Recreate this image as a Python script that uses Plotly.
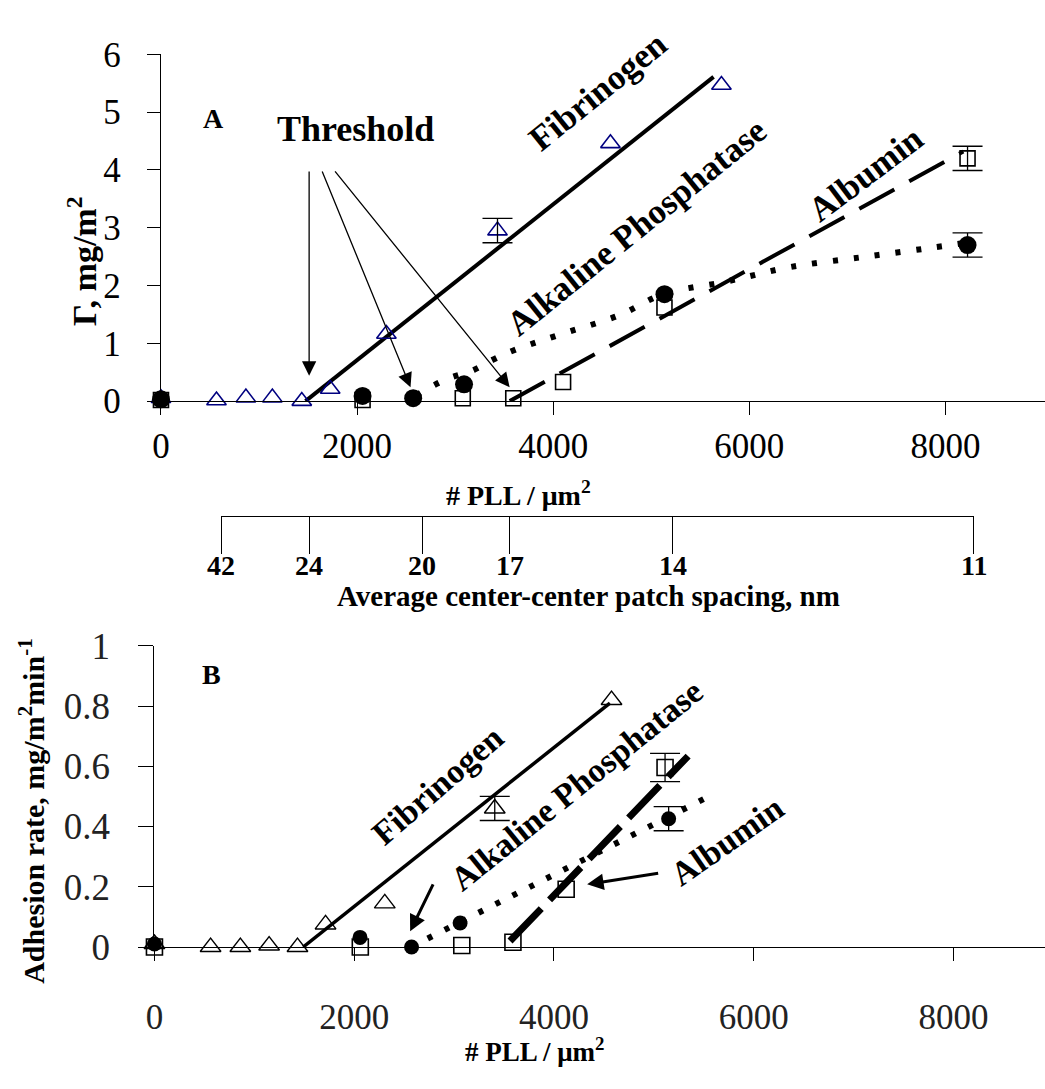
import plotly.graph_objects as go

# ---------------- Panel A data (adsorbed amount, mg/m2) ----------------
fib_a_x = [0, 566, 866, 1136, 1436, 1726, 2299, 3432, 4584, 5716]
fib_a_y = [0.05, 0.01, 0.06, 0.06, 0.0, 0.21, 1.16, 2.95, 4.46, 5.47]
fib_a_err = [None, None, None, None, None, None, None, 0.21, None, None]

alb_a_x = [0, 2056, 3078, 3593, 4101, 5135, 8226]
alb_a_y = [0.02, 0.02, 0.05, 0.05, 0.33, 1.62, 4.2]
alb_a_err = [None, None, None, None, None, None, 0.21]

ap_a_x = [0, 2056, 2572, 3091, 5135, 8226]
ap_a_y = [0.03, 0.09, 0.05, 0.29, 1.85, 2.7]
ap_a_err = [None, None, None, None, None, 0.21]

fib_a_fit_x = [1474, 5636]
fib_a_fit_y = [0.0, 5.61]
alb_a_fit_x = [3557, 8183]
alb_a_fit_y = [0.0, 4.32]
ap_a_fit_x = [2600, 2900, 3190, 3390, 3600, 4030, 4680, 5120, 5770, 6420, 7150, 7800, 8170]
ap_a_fit_y = [0.1, 0.37, 0.54, 0.72, 0.88, 1.13, 1.49, 1.85, 2.07, 2.32, 2.49, 2.64, 2.73]

# threshold arrows (tail at text, head at threshold)
thr_head_x = [1511, 2545, 3556]
thr_head_y = [0.44, 0.24, 0.24]
thr_tail_x = [1511, 1638, 1763]
thr_tail_y = [4.0, 4.0, 4.0]

# ---------------- Panel B data (adhesion rate) ----------------
fib_b_x = [0, 562, 860, 1148, 1432, 1713, 2306, 3407, 4576]
fib_b_y = [0.01, 0.0, 0.0, 0.005, 0.0, 0.075, 0.145, 0.46, 0.82]
fib_b_err = [None, None, None, None, None, None, None, 0.04, None]

ap_b_x = [0, 2058, 2574, 3060, 5148]
ap_b_y = [0.01, 0.032, 0.0, 0.08, 0.426]
ap_b_err = [None, None, None, None, 0.04]

alb_b_x = [0, 2061, 3077, 3589, 4122, 5112]
alb_b_y = [0.0, 0.0, 0.005, 0.016, 0.192, 0.596]
alb_b_err = [None, None, None, None, None, 0.047]

fib_b_fit_x = [1489, 4560]
fib_b_fit_y = [0.0, 0.81]
ap_b_fit_x = [2566, 5521]
ap_b_fit_y = [0.0, 0.495]
alb_b_fit_x = [3560, 5343]
alb_b_fit_y = [0.02, 0.634]

# panel B pointer arrows (head -> tail)
b_arrow_head_x = [2560, 4332]
b_arrow_head_y = [0.052, 0.208]
b_arrow_tail_x = [2797, 5058]
b_arrow_tail_y = [0.213, 0.246]

# ---------------- axis ticks ----------------
pll_ticks = [0, 2000, 4000, 6000, 8000]
gamma_ticks = [0, 1, 2, 3, 4, 5, 6]
rate_ticks = [0, 0.2, 0.4, 0.6, 0.8, 1]
rate_tick_text = ["0", "0.2", "0.4", "0.6", "0.8", "1"]
spacing_pll = [617, 1511, 2663, 3556, 5217, 8291]
spacing_labels = ["42", "24", "20", "17", "14", "11"]

SERIF = "Liberation Serif"
NAVY = "#000080"

fig = go.Figure()


def pts(x, y, err, sym, size, color, lw, xa, ya):
    fig.add_trace(go.Scatter(
        x=x, y=y, mode="markers", xaxis=xa, yaxis=ya, cliponaxis=False,
        marker=dict(symbol=sym, size=size, color=color,
                    line=dict(color=color, width=lw)),
        showlegend=False, hoverinfo="skip"))
    ex = [a for a, e in zip(x, err) if e is not None]
    ey = [b for b, e in zip(y, err) if e is not None]
    ee = [e for e in err if e is not None]
    fig.add_trace(go.Scatter(
        x=ex, y=ey, mode="markers", xaxis=xa, yaxis=ya, cliponaxis=False,
        marker=dict(size=1, color="rgba(0,0,0,0)"),
        error_y=dict(type="data", array=ee, visible=True, color="black",
                     thickness=1.3, width=15),
        showlegend=False, hoverinfo="skip"))


def fit(x, y, width, dash, xa, ya):
    fig.add_trace(go.Scatter(
        x=x, y=y, mode="lines", xaxis=xa, yaxis=ya, cliponaxis=False,
        line=dict(color="black", width=width, dash=dash, shape="spline"),
        showlegend=False, hoverinfo="skip"))


# Panel A
fit(fib_a_fit_x, fib_a_fit_y, 4, "solid", "x", "y")
fit(alb_a_fit_x, alb_a_fit_y, 4, "40px,17px", "x", "y")
fit(ap_a_fit_x, ap_a_fit_y, 6, "5px,16px", "x", "y")
pts(fib_a_x, fib_a_y, fib_a_err, "triangle-up-open", 17, NAVY, 1.6, "x", "y")
pts(alb_a_x, alb_a_y, alb_a_err, "square-open", 15, "black", 1.6, "x", "y")
pts(ap_a_x, ap_a_y, ap_a_err, "circle", 18, "black", 0, "x", "y")

# Panel B
fit(fib_b_fit_x, fib_b_fit_y, 3.5, "solid", "x2", "y2")
fit(alb_b_fit_x, alb_b_fit_y, 7, "45px,12px", "x2", "y2")
fit(ap_b_fit_x, ap_b_fit_y, 6, "5px,14px", "x2", "y2")
pts(fib_b_x, fib_b_y, fib_b_err, "triangle-up-open", 18, "black", 1.4, "x2", "y2")
pts(alb_b_x, alb_b_y, alb_b_err, "square-open", 16, "black", 1.6, "x2", "y2")
pts(ap_b_x, ap_b_y, ap_b_err, "circle", 15, "black", 0, "x2", "y2")

# spacing axis carrier (invisible)
fig.add_trace(go.Scatter(x=spacing_pll, y=[0.5] * len(spacing_pll), mode="markers",
                         xaxis="x3", yaxis="y3", marker=dict(size=1, color="rgba(0,0,0,0)"),
                         showlegend=False, hoverinfo="skip"))

axis_common = dict(showgrid=False, zeroline=False, showline=True, linecolor="black",
                   linewidth=1.3, ticks="outside", tickcolor="black", tickwidth=1.3)

fig.update_layout(
    width=1045, height=1089,
    margin=dict(l=0, r=0, t=0, b=0),
    paper_bgcolor="white", plot_bgcolor="rgba(0,0,0,0)",
    showlegend=False,
    xaxis=dict(domain=[0.1467, 1.0], range=[0, 9016], anchor="y",
               tickvals=pll_ticks, ticklen=13, ticklabelstandoff=1,
               tickfont=dict(family=SERIF, size=35, color="black"), **axis_common),
    yaxis=dict(domain=[0.63636, 0.96722], range=[0, 6], anchor="x",
               tickvals=gamma_ticks, ticklen=13, ticklabelstandoff=19,
               tickfont=dict(family=SERIF, size=35, color="black"), **axis_common),
    xaxis2=dict(domain=[0.1404, 1.0], range=[0, 8916], anchor="y2",
                tickvals=pll_ticks, ticklen=13, ticklabelstandoff=26,
                tickfont=dict(family=SERIF, size=35, color="#222"), **axis_common),
    yaxis2=dict(domain=[0.11543, 0.40285], range=[0, 1], anchor="x2",
                tickvals=rate_ticks, ticktext=rate_tick_text, ticklen=15,
                ticklabelstandoff=21,
                tickfont=dict(family=SERIF, size=37, color="#222"), **axis_common),
    xaxis3=dict(domain=[0.20507, 0.93139], range=[617, 8291], anchor="y3",
                tickvals=spacing_pll, showticklabels=False,
                ticklen=37, **axis_common),
    yaxis3=dict(domain=[0.52645, 0.53], range=[0, 1], anchor="x3", visible=False),
)

ann = []


def txt(text, x, y, size, angle=0, xref="paper", yref="paper", **kw):
    ann.append(dict(text=text, x=x, y=y, xref=xref, yref=yref, showarrow=False,
                    textangle=angle, xanchor="center", yanchor="middle",
                    font=dict(family=SERIF, size=size, color="black"), **kw))


def px(xp, yp):
    return xp / 1045.0, 1 - yp / 1089.0


# Panel A texts
txt("<b>A</b>", *px(206, 102), 28)
txt("<b>Threshold</b>", *px(350, 113), 36)
txt("<b>Fibrinogen</b>", *px(594, 74), 35, angle=-39)
txt("<b>Alkaline Phosphatase</b>", *px(633, 216), 35, angle=-39)
txt("<b>Albumin</b>", *px(864, 161), 35, angle=-37)
txt("<b>Γ, mg/m<sup>2</sup></b>", *px(73, 250), 34, angle=-90)
txt("<b># PLL / μm<sup>2</sup></b>", *px(514, 492), 28)

# spacing axis labels and title
for pv, lab in zip(spacing_pll, spacing_labels):
    ann.append(dict(text="<b>%s</b>" % lab, x=pv, xref="x3", y=1 - 567 / 1089.0,
                    yref="paper", showarrow=False, xanchor="center", yanchor="middle",
                    font=dict(family=SERIF, size=28, color="black")))
txt("<b>Average center-center patch spacing, nm</b>", *px(585, 599), 29)

# Panel B texts
txt("<b>B</b>", *px(204, 680), 28)
txt("<b>Fibrinogen</b>", *px(432, 795), 34, angle=-41)
txt("<b>Alkaline Phosphatase</b>", *px(572, 795), 34, angle=-39)
txt("<b>Albumin</b>", *px(725, 853), 34, angle=-35)
txt("<b>Adhesion rate, mg/m<sup>2</sup>min<sup>-1</sup></b>", *px(23, 822), 30, angle=-90)
txt("<b># PLL / μm<sup>2</sup></b>", *px(531, 1070), 27)

# Threshold arrows
for hx, hy, tx, ty in zip(thr_head_x, thr_head_y, thr_tail_x, thr_tail_y):
    ann.append(dict(text="", x=hx, y=hy, xref="x", yref="y", ax=tx, ay=ty,
                    axref="x", ayref="y", showarrow=True, arrowhead=2,
                    arrowsize=2.2, arrowwidth=1.3, arrowcolor="black", standoff=0))

# Panel B arrows
for hx, hy, tx, ty in zip(b_arrow_head_x, b_arrow_head_y, b_arrow_tail_x, b_arrow_tail_y):
    ann.append(dict(text="", x=hx, y=hy, xref="x2", yref="y2", ax=tx, ay=ty,
                    axref="x2", ayref="y2", showarrow=True, arrowhead=2,
                    arrowsize=1.1, arrowwidth=3, arrowcolor="black", standoff=0))

fig.update_layout(annotations=ann)
fig.write_html("out.html", config={"displayModeBar": False},
               post_script="document.body.style.margin='0px';")
